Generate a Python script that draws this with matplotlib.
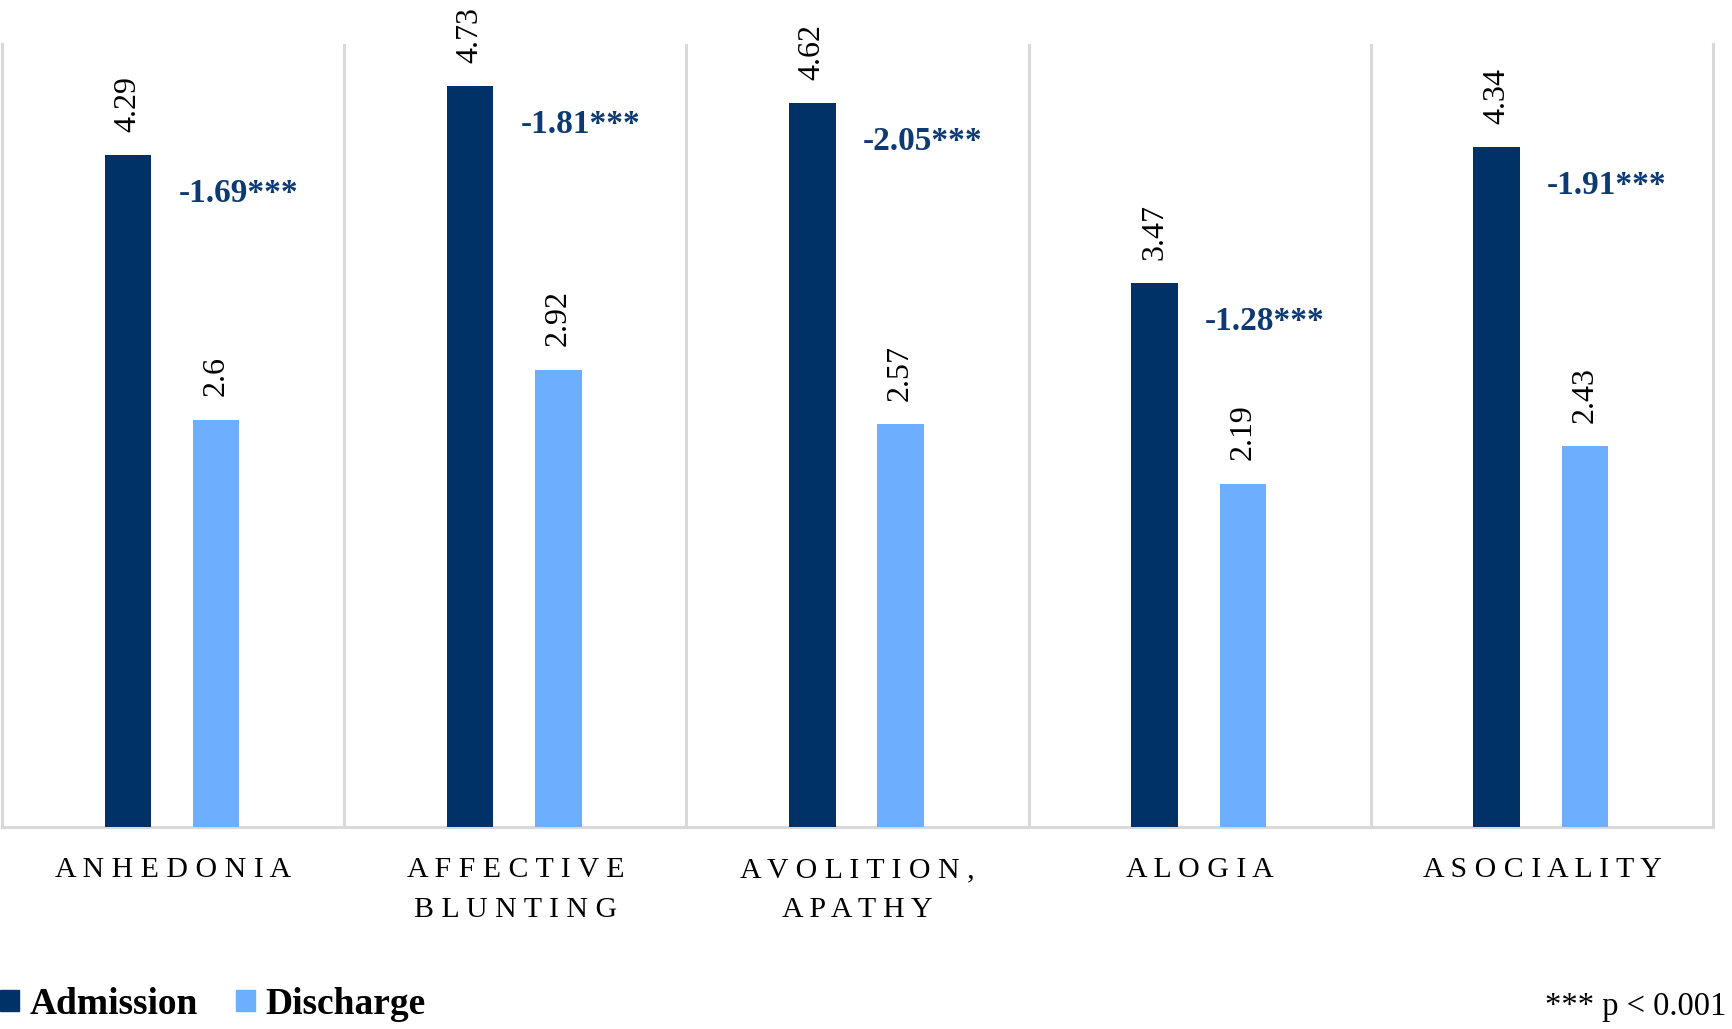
import numpy as np
import matplotlib
matplotlib.use("Agg")
import matplotlib.pyplot as plt
from matplotlib.patches import Patch

# --- data ---
categories = ["ANHEDONIA", "AFFECTIVE\nBLUNTING", "AVOLITION,\nAPATHY", "ALOGIA", "ASOCIALITY"]
admission = [4.29, 4.73, 4.62, 3.47, 4.34]
discharge = [2.60, 2.92, 2.57, 2.19, 2.43]
change = [-1.69, -1.81, -2.05, -1.28, -1.91]
value_labels_adm = ["4.29", "4.73", "4.62", "3.47", "4.34"]
value_labels_dis = ["2.6", "2.92", "2.57", "2.19", "2.43"]

# --- style ---
serif = "Liberation Serif"
c_adm = "#003268"
c_dis = "#6daefe"
c_diff = "#0e3a73"
c_grid = "#d9d9d9"

def spaced(s):
    # letter-spaced category names, keep the line breaks
    return "\n".join(" ".join(list(line)) for line in s.split("\n"))

fig = plt.figure(figsize=(17.33, 10.29), dpi=100)
ax = fig.add_axes([2 / 1733, 1 - 826.5 / 1029, 1711 / 1733, (826.5 - 44) / 1029])

x = np.arange(len(categories))
w = 0.136
ax.bar(x - 0.132, admission, w, color=c_adm, zorder=3)
ax.bar(x + 0.126, discharge, w, color=c_dis, zorder=3)

# --- category separators ---
for b in np.arange(0.5, len(categories) - 0.5, 1):
    ax.axvline(b, color=c_grid, lw=2.2, zorder=1)

ax.set_xlim(-0.5, len(categories) - 0.5)
ax.set_ylim(0, 5)
ax.set_yticks([])
for side in ["left", "right", "bottom"]:
    ax.spines[side].set_color(c_grid)
    ax.spines[side].set_linewidth(2.2)
ax.spines["top"].set_visible(False)

ax.set_xticks(x)
ax.set_xticklabels([spaced(c) for c in categories], fontfamily=serif,
                   fontsize=21.5, linespacing=1.7, va="top")
ax.tick_params(axis="x", length=0, pad=22)

# --- value labels ---
for i in range(len(categories)):
    ax.annotate(value_labels_adm[i], (x[i] - 0.132, admission[i]), xytext=(0, 17),
                textcoords="offset points", rotation=90, ha="center", va="bottom",
                fontfamily=serif, fontsize=23)
    ax.annotate(value_labels_dis[i], (x[i] + 0.126, discharge[i]), xytext=(0, 17),
                textcoords="offset points", rotation=90, ha="center", va="bottom",
                fontfamily=serif, fontsize=23)
    ax.text(x[i] + 0.19, admission[i] - 0.245, f"{change[i]:.2f}***",
            ha="center", va="center", fontfamily=serif, fontsize=24,
            fontweight="bold", color=c_diff)

# --- legend + note ---
handles = [Patch(color=c_adm, label="Admission"), Patch(color=c_dis, label="Discharge")]
fig.legend(handles=handles, loc="center left", bbox_to_anchor=(0.0, 1 - 1004 / 1029),
           ncol=2, frameon=False, prop={"family": serif, "weight": "bold", "size": 27},
           handlelength=0.5, handleheight=0.5, handletextpad=0.3, columnspacing=1.0,
           borderpad=0, borderaxespad=0)
fig.text(1726 / 1733, 1 - 1007 / 1029, "*** p < 0.001", ha="right", va="center",
         fontfamily=serif, fontsize=23.5)

fig.savefig("out.png", dpi=100, facecolor="white")
